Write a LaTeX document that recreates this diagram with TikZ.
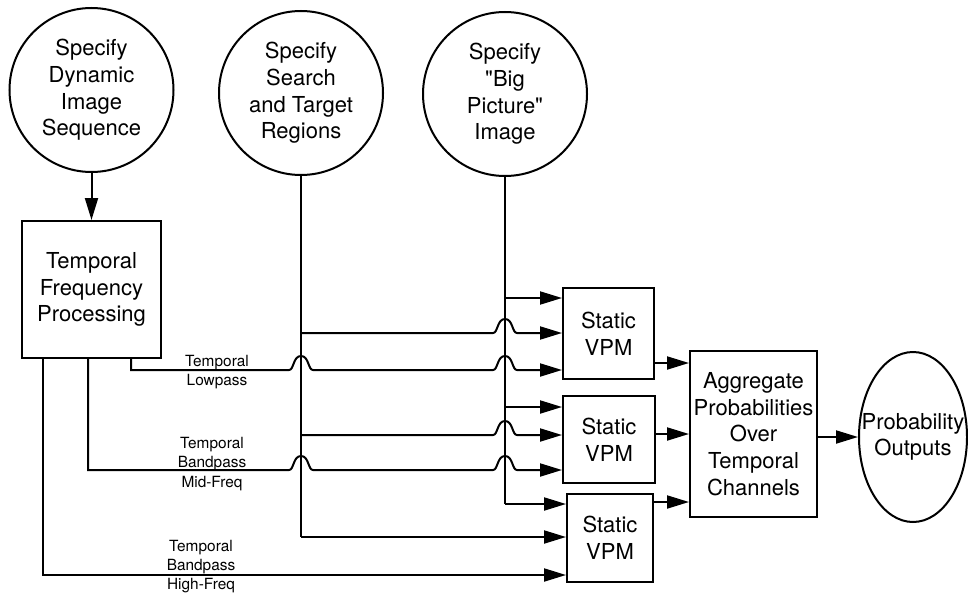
\documentclass[tikz,border=0pt]{standalone}
\usepackage{fontspec}
\setmainfont{TeX Gyre Heros}[Ligatures=TeXOff]
\usetikzlibrary{arrows.meta,shapes.geometric}

% a small bump where a horizontal wire crosses a vertical one at x=#1, y=#2
\newcommand\jumpover[2]{-- ({#1-12},#2) .. controls ({#1-7},#2) and ({#1-8},{#2-14}) .. (#1,{#2-14}) .. controls ({#1+8},{#2-14}) and ({#1+7},#2) .. ({#1+12},#2)}

\begin{document}
\begin{tikzpicture}[x=1pt,y=-1pt,
  every path/.style={line width=2pt},
  big/.style={font=\fontsize{22}{26.7}\selectfont,align=center},
  src/.style={circle,draw,minimum size=164pt,inner sep=1pt,big},
  blk/.style={draw,inner sep=0pt,big},
  lbl/.style={font=\fontsize{15.4}{19}\selectfont,anchor=base,inner sep=0pt},
  arr/.style={-{Triangle[length=22pt,width=13pt]}}]

\useasboundingbox (0,0) rectangle (968,594);

% sources
\node[src] (c1) at (91.5,90) {Specify\\Dynamic\\Image\\Sequence};
\node[src] (c2) at (301,93) {Specify\\Search\\and Target\\Regions};
\node[src] (c3) at (505,94) {Specify\\"Big\\Picture"\\Image};

% processing blocks
\node[blk,minimum width=139pt,minimum height=137pt] (tfp) at (91.5,289.5) {Temporal\\Frequency\\Processing};
\node[blk,minimum width=91pt,minimum height=91pt] (v1) at (608.5,333.5) {Static\\VPM};
\node[blk,minimum width=92pt,minimum height=87pt] (v2) at (609,439.5) {Static\\VPM};
\node[blk,minimum width=86pt,minimum height=88pt] (v3) at (610,538) {Static\\VPM};
\node[blk,minimum width=127pt,minimum height=166pt] (agg) at (753.5,434) {Aggregate\\Probabilities\\Over\\Temporal\\Channels};

% output
\node[ellipse,draw,minimum width=108pt,minimum height=170pt,inner sep=0pt] (po) at (913,437) {};
\node[big] (pot) at (po) {Probability\\Outputs};

% sequence into temporal processing
\draw[arr] (c1) -- (tfp);

% search and target regions
\coordinate (sA) at (c2.south |- 0,333);
\coordinate (sB) at (c2.south |- 0,435);
\coordinate (sC) at (c2.south |- 0,537);
\draw (c2.south) -- (sC);
\draw[arr] (sA) \jumpover{505}{333} -- (sA -| v1.west);
\draw[arr] (sB) \jumpover{505}{435} -- (sB -| v2.west);
\draw[arr] (sC) -- (sC -| v3.west);

% big picture image
\coordinate (bA) at (c3.south |- 0,298);
\coordinate (bB) at (c3.south |- 0,407);
\coordinate (bC) at (c3.south |- 0,504);
\draw (c3.south) -- (bC);
\draw[arr] (bA) -- (bA -| v1.west);
\draw[arr] (bB) -- (bB -| v2.west);
\draw[arr] (bC) -- (bC -| v3.west);

% temporal channels
\coordinate (lo) at (131,370);
\coordinate (mi) at (88,470);
\coordinate (hi) at (43,575);
\draw[arr] (tfp.south -| lo) -- (lo) \jumpover{301}{370} \jumpover{505}{370} -- (lo -| v1.west);
\draw[arr] (tfp.south -| mi) -- (mi) \jumpover{301}{470} \jumpover{505}{470} -- (mi -| v2.west);
\draw[arr] (tfp.south -| hi) -- (hi) -- (hi -| v3.west);

\node[lbl] (loA) at (217,366) {Temporal};
\node[lbl] (loB) at (217,385) {Lowpass};
\node[lbl] (miA) at (212,448) {Temporal};
\node[lbl] (miB) at (212,467) {Bandpass};
\node[lbl] (miC) at (212,487) {Mid-Freq};
\node[lbl] (hiA) at (201,551) {Temporal};
\node[lbl] (hiB) at (201,570) {Bandpass};
\node[lbl] (hiC) at (201,589) {High-Freq};

% into aggregation and out
\coordinate (o1) at (v1.east |- 0,363);
\coordinate (o2) at (v2.east |- 0,434);
\coordinate (o3) at (v3.east |- 0,502);
\draw[arr] (o1) -- (o1 -| agg.west);
\draw[arr] (o2) -- (o2 -| agg.west);
\draw[arr] (o3) -- (o3 -| agg.west);
\draw[arr] (agg.east |- po.west) -- (po.west);

\end{tikzpicture}
\end{document}
